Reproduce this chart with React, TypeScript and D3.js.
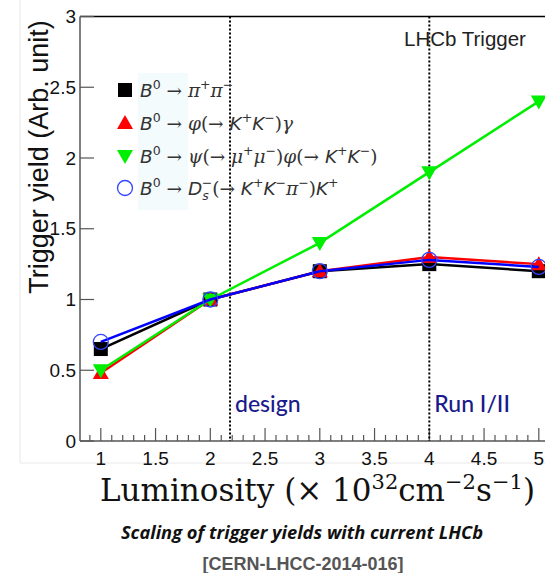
import React from "react";
import * as d3 from "d3";

const luminosity = [1, 2, 3, 4, 5];
const yieldPiPi = [0.65, 1.0, 1.2, 1.25, 1.2];
const yieldPhiGamma = [0.48, 1.0, 1.2, 1.3, 1.25];
const yieldPsiPhi = [0.5, 1.0, 1.4, 1.9, 2.4];
const yieldDsK = [0.7, 1.0, 1.2, 1.28, 1.23];

const xMajorTicks = [1, 1.5, 2, 2.5, 3, 3.5, 4, 4.5, 5];
const yMajorTicks = [0, 0.5, 1, 1.5, 2, 2.5, 3];
const markerLines = [2.18, 4];
const markerLabels = ["design", "Run I/II"];

type Seg = { t: string; it?: boolean; sup?: boolean; sub?: boolean; serif?: boolean; dx?: number };

const legendLabels: Seg[][] = [
  [{ t: "B", it: true }, { t: "0", sup: true }, { t: " → ", serif: true }, { t: "π", it: true, serif: true }, { t: "+", sup: true }, { t: "π", it: true, serif: true }, { t: "−", sup: true }],
  [{ t: "B", it: true }, { t: "0", sup: true }, { t: " → ", serif: true }, { t: "φ", it: true, serif: true }, { t: "(→ ", serif: true }, { t: "K", it: true }, { t: "+", sup: true }, { t: "K", it: true }, { t: "−", sup: true }, { t: ")", serif: true }, { t: "γ", it: true, serif: true }],
  [{ t: "B", it: true }, { t: "0", sup: true }, { t: " → ", serif: true }, { t: "ψ", it: true, serif: true }, { t: "(→ ", serif: true }, { t: "μ", it: true, serif: true }, { t: "+", sup: true }, { t: "μ", it: true, serif: true }, { t: "−", sup: true }, { t: ")", serif: true }, { t: "φ", it: true, serif: true }, { t: "(→ ", serif: true }, { t: "K", it: true }, { t: "+", sup: true }, { t: "K", it: true }, { t: "−", sup: true }, { t: ")", serif: true }],
  [{ t: "B", it: true }, { t: "0", sup: true }, { t: " → ", serif: true }, { t: "D", it: true }, { t: "s", sub: true, it: true }, { t: "−", sup: true, dx: -7 }, { t: "(→ ", serif: true }, { t: "K", it: true }, { t: "+", sup: true }, { t: "K", it: true }, { t: "−", sup: true }, { t: "π", it: true, serif: true }, { t: "−", sup: true }, { t: ")", serif: true }, { t: "K", it: true }, { t: "+", sup: true }],
];

const series = [
  { name: "pipi", values: yieldPiPi, color: "#000000", marker: "square" },
  { name: "phigamma", values: yieldPhiGamma, color: "#ff0000", marker: "up" },
  { name: "psiphi", values: yieldPsiPhi, color: "#00ee00", marker: "down" },
  { name: "dsk", values: yieldDsK, color: "#0000ff", marker: "circle" },
];

const W = 545;
const H = 573;
const left = 80;
const x = d3.scaleLinear().domain([0.81, 5.19]).range([left, left + 4.38 * 109.5]);
const y = d3.scaleLinear().domain([0, 3]).range([441, 16.5]);

function Marker({ type, cx, cy, color }: { type: string; cx: number; cy: number; color: string }) {
  if (type === "square") return <rect x={cx - 7} y={cy - 7} width={14} height={14} fill={color} />;
  if (type === "up") {
    const p = d3.path();
    p.moveTo(cx, cy - 8); p.lineTo(cx + 8, cy + 6); p.lineTo(cx - 8, cy + 6); p.closePath();
    return <path d={p.toString()} fill={color} />;
  }
  if (type === "down") {
    const p = d3.path();
    p.moveTo(cx, cy + 8); p.lineTo(cx + 8, cy - 6); p.lineTo(cx - 8, cy - 6); p.closePath();
    return <path d={p.toString()} fill={color} />;
  }
  return <circle cx={cx} cy={cy} r={7.5} fill="none" stroke="#3344ff" strokeWidth={1.3} />;
}

function LegendText({ segs, tx, ty }: { segs: Seg[]; tx: number; ty: number }) {
  let off = 0;
  const base = 18.5;
  const small = 12.5;
  return (
    <text x={tx} y={ty} fontSize={base} fill="#333" fontFamily="DejaVu Sans">
      {segs.map((s, i) => {
        let target = 0;
        let fs = base;
        if (s.sup) { target = -8; fs = small; }
        if (s.sub) { target = 5; fs = small; }
        const dy = target - off;
        off = target;
        return (
          <tspan key={i} dy={dy} dx={s.dx ?? 0} fontSize={fs}
            fontStyle={s.it ? "italic" : "normal"}
            fontFamily={s.serif ? "DejaVu Serif" : "DejaVu Sans"}>
            {s.t}
          </tspan>
        );
      })}
    </text>
  );
}

export default function App() {
  const line = d3.line<number>().x((_, i) => x(luminosity[i])).y((v) => y(v));
  const minorTicks = d3.range(9, 52).map((v) => v / 10);
  const legendRows = [90, 123, 156, 188];
  return (
    <svg width={W} height={H} style={{ position: "absolute", left: 0, top: 0, background: "#fff" }}>
      {/* canvas border */}
      <line x1={20} y1={0} x2={20} y2={463} stroke="#e8e8e8" strokeWidth={1} />
      <line x1={20} y1={463} x2={W} y2={463} stroke="#e8e8e8" strokeWidth={1} />

      {/* legend background */}
      <rect x={138} y={73} width={50} height={137} fill="#f4fbfd" />

      {/* frame */}
      <line x1={left} y1={y(3)} x2={W} y2={y(3)} stroke="#000" strokeWidth={1.5} />
      <line x1={left} y1={y(3)} x2={left} y2={y(0)} stroke="#555" strokeWidth={1.5} />
      <line x1={left} y1={y(0)} x2={W} y2={y(0)} stroke="#555" strokeWidth={1.5} />

      {/* y ticks */}
      {yMajorTicks.map((t) => (
        <g key={"y" + t}>
          <line x1={left} x2={left + 14} y1={y(t)} y2={y(t)} stroke="#555" strokeWidth={1.2} />
          <text x={left - 4} y={y(t)} dy="0.35em" textAnchor="end" fontSize={19} fontFamily="Liberation Sans" fill="#111">{t}</text>
        </g>
      ))}

      {/* x ticks */}
      {minorTicks.map((t) => {
        const major = Math.abs(t * 2 - Math.round(t * 2)) < 1e-6;
        return <line key={"xm" + t} x1={x(t)} x2={x(t)} y1={y(0)} y2={y(0) - (major ? 13 : 6)} stroke="#555" strokeWidth={1.2} />;
      })}
      {xMajorTicks.map((t) => (
        <text key={"xl" + t} x={x(t)} y={y(0) + 24} textAnchor="middle" fontSize={19} fontFamily="Liberation Sans" fill="#111">{t}</text>
      ))}

      {/* dotted lines */}
      {markerLines.map((v, i) => (
        <g key={"ml" + i}>
          <line x1={x(v)} x2={x(v)} y1={y(3)} y2={y(0)} stroke="#000" strokeWidth={2} strokeDasharray="2,2" />
          <text x={x(v) + 5} y={412} fontSize={23} fontFamily="Lato" fontWeight={500} fill="#1a1a8c">{markerLabels[i]}</text>
        </g>
      ))}

      {/* series */}
      {series.map((s) => (
        <g key={s.name}>
          <path d={line(s.values) ?? ""} fill="none" stroke={s.color} strokeWidth={2.5} />
          {s.values.map((v, i) => (
            <Marker key={i} type={s.marker} cx={x(luminosity[i])} cy={y(v)} color={s.color} />
          ))}
        </g>
      ))}

      {/* legend */}
      {series.map((s, i) => (
        <g key={"lg" + i}>
          <Marker type={s.marker} cx={125} cy={legendRows[i]} color={s.color} />
          <LegendText segs={legendLabels[i]} tx={140} ty={legendRows[i] + 7} />
        </g>
      ))}

      <text x={404} y={46} fontSize={20.5} fontFamily="Liberation Sans" fill="#222">LHCb Trigger</text>

      {/* axis titles */}
      <text transform={`translate(48,${157}) rotate(-90)`} textAnchor="middle" fontSize={27} fontFamily="Liberation Sans" fill="#111">Trigger yield (Arb. unit)</text>
      <text x={100} y={501} fontSize={31} fontFamily="DejaVu Serif" fill="#111">
        Luminosity (× 10<tspan dy={-12} fontSize={21}>32</tspan><tspan dy={12}>cm</tspan><tspan dy={-12} fontSize={21}>−2</tspan><tspan dy={12}>s</tspan><tspan dy={-12} fontSize={21}>−1</tspan><tspan dy={12}>)</tspan>
      </text>

      {/* caption */}
      <text x={302} y={539} textAnchor="middle" fontSize={18.3} fontFamily="Open Sans" fontWeight={700} fontStyle="italic" fill="#111">Scaling of trigger yields with current LHCb</text>
      <text x={303} y={570} textAnchor="middle" fontSize={18} fontFamily="Liberation Sans" fontWeight={700} fill="#555">[CERN-LHCC-2014-016]</text>
    </svg>
  );
}
